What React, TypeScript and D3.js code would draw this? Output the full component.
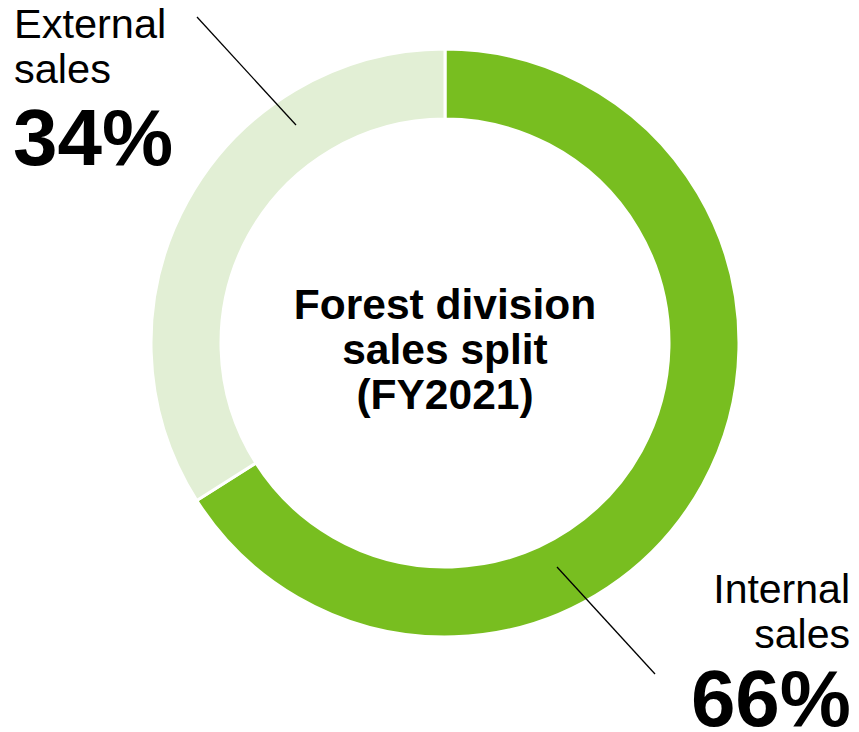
import React from "react";
import * as d3 from "d3";

const categories = ["Internal sales", "External sales"];
const shares = [66, 34];
const colors = ["#78BE20", "#E2EFD5"];
const centerTitle = ["Forest division", "sales split", "(FY2021)"];

const W = 859;
const H = 732;
const cx = 445;
const cy = 343;
const rOuter = 294;
const rInner = 224;

export default function App() {
  const pie = d3.pie<number>().sort(null).value((d) => d);
  const arcs = pie(shares);
  const arcGen = d3.arc<d3.PieArcDatum<number>>().innerRadius(rInner).outerRadius(rOuter);
  const font = "'Liberation Sans', Arial, sans-serif";
  return (
    <svg width={W} height={H} style={{ position: "absolute", left: 0, top: 0 }} fontFamily={font}>
      <rect width={W} height={H} fill="#fff" />
      <g transform={`translate(${cx},${cy})`}>
        {arcs.map((a, i) => (
          <path key={categories[i]} d={arcGen(a) || ""} fill={colors[i]} stroke="#fff" strokeWidth={3} />
        ))}
      </g>
      {/* leader lines */}
      <line x1={197} y1={17} x2={296} y2={125} stroke="#000" strokeWidth={1.3} />
      <line x1={557} y1={567} x2={655} y2={674} stroke="#000" strokeWidth={1.3} />
      {/* External label */}
      <text x={14} y={38} fontSize={41.5} fill="#000">External</text>
      <text x={14} y={83} fontSize={41.5} fill="#000">sales</text>
      <text x={13} y={165} fontSize={80} fontWeight="bold" fill="#000">{shares[1]}%</text>
      {/* Internal label */}
      <text x={850} y={603} fontSize={41} textAnchor="end" fill="#000">Internal</text>
      <text x={850} y={648} fontSize={41} textAnchor="end" fill="#000">sales</text>
      <text x={851} y={726} fontSize={80} fontWeight="bold" textAnchor="end" fill="#000">{shares[0]}%</text>
      {/* center */}
      {centerTitle.map((t, i) => (
        <text key={t} x={cx} y={319 + i * 45} fontSize={42.5} fontWeight="bold" textAnchor="middle" fill="#000">{t}</text>
      ))}
    </svg>
  );
}
